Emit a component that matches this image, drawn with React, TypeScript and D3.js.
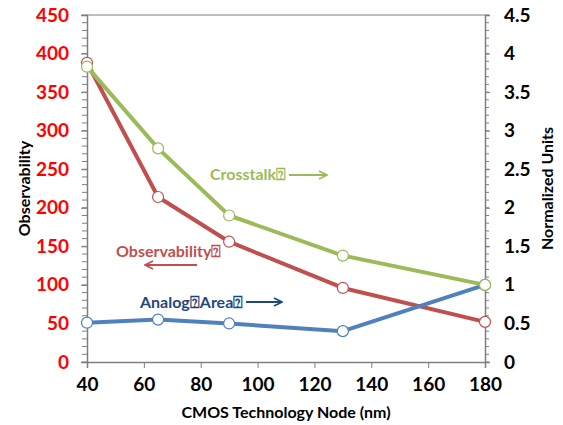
import React, { useEffect, useRef } from 'react';
import * as d3 from 'd3';

// technology nodes (nm)
const nodes = [40, 65, 90, 130, 180];
// observability, left axis
const observability = [388, 214, 156, 96, 52];
// normalized units, right axis
const crosstalk = [3.83, 2.77, 1.9, 1.38, 1.0];
const analogArea = [0.51, 0.55, 0.5, 0.4, 1.0];

const xTicks = [40, 60, 80, 100, 120, 140, 160, 180];
const leftTicks = [0, 50, 100, 150, 200, 250, 300, 350, 400, 450];
const rightTicks = [0, 0.5, 1, 1.5, 2, 2.5, 3, 3.5, 4, 4.5];

const FONT = 'Lato, "Open Sans", sans-serif';

const App: React.FC = () => {
  const svgRef = useRef<SVGSVGElement | null>(null);

  useEffect(() => {
    if (!svgRef.current) return;
    const svg = d3.select(svgRef.current);
    svg.selectAll('*').remove();

    const left = 87, right = 485, top = 15, bottom = 362;

    const x = d3.scaleLinear().domain([40, 180]).range([left, right]);
    const yL = d3.scaleLinear().domain([0, 450]).range([bottom, top]);
    const yR = d3.scaleLinear().domain([0, 4.5]).range([bottom, top]);

    const axisColor = '#7f7f7f';

    // plot frame top line
    svg.append('line')
      .attr('x1', left).attr('x2', right)
      .attr('y1', top).attr('y2', top)
      .attr('stroke', axisColor).attr('stroke-width', 1);

    // minor ticks on left and right axes
    const minorL = d3.range(0, 451, 10);
    svg.append('g').selectAll('line').data(minorL).enter().append('line')
      .attr('x1', left - 5).attr('x2', left)
      .attr('y1', (d) => yL(d)).attr('y2', (d) => yL(d))
      .attr('stroke', axisColor);
    const minorR = d3.range(0, 46).map((i) => i / 10);
    svg.append('g').selectAll('line').data(minorR).enter().append('line')
      .attr('x1', right).attr('x2', right + 4)
      .attr('y1', (d) => yR(d)).attr('y2', (d) => yR(d))
      .attr('stroke', axisColor);

    // x axis
    const gx = svg.append('g')
      .attr('transform', `translate(0,${bottom})`)
      .call(d3.axisBottom(x).tickValues(xTicks).tickSize(6).tickPadding(10).tickFormat(d3.format('d')));
    gx.select('.domain').attr('stroke', axisColor).attr('stroke-width', 1.5);
    gx.selectAll('line').attr('stroke', axisColor);
    gx.selectAll('text')
      .attr('fill', '#000').style('font-family', FONT)
      .style('font-size', '19px').style('font-weight', 'bold');

    // left axis
    const gl = svg.append('g')
      .attr('transform', `translate(${left},0)`)
      .call(d3.axisLeft(yL).tickValues(leftTicks).tickSize(6).tickPadding(12));
    gl.select('.domain').attr('stroke', axisColor).attr('stroke-width', 1.5);
    gl.selectAll('line').attr('stroke', axisColor);
    gl.selectAll('text')
      .attr('fill', '#ff0000').style('font-family', FONT)
      .style('font-size', '19px').style('font-weight', 'bold');

    // right axis
    const gr = svg.append('g')
      .attr('transform', `translate(${right},0)`)
      .call(d3.axisRight(yR).tickValues(rightTicks).tickSize(5).tickPadding(14).tickFormat((d: any) => String(d)));
    gr.select('.domain').attr('stroke', axisColor).attr('stroke-width', 1.5);
    gr.selectAll('line').attr('stroke', axisColor);
    gr.selectAll('text')
      .attr('fill', '#000').style('font-family', FONT)
      .style('font-size', '19px').style('font-weight', 'bold');

    // axis titles
    svg.append('text')
      .attr('transform', `translate(30,${(top + bottom) / 2}) rotate(-90)`)
      .attr('text-anchor', 'middle')
      .style('font-family', FONT).style('font-size', '16px').style('font-weight', 'bold')
      .text('Observability');
    svg.append('text')
      .attr('transform', `translate(553,${(top + bottom) / 2}) rotate(-90)`)
      .attr('text-anchor', 'middle')
      .style('font-family', FONT).style('font-size', '16px').style('font-weight', 'bold')
      .text('Normalized Units');
    svg.append('text')
      .attr('x', (left + right) / 2).attr('y', 418)
      .attr('text-anchor', 'middle')
      .style('font-family', FONT).style('font-size', '16px').style('font-weight', 'bold')
      .text('CMOS Technology Node (nm)');

    // series
    const series = [
      { values: observability, scale: yL, color: '#c0504d' },
      { values: analogArea, scale: yR, color: '#4f81bd' },
      { values: crosstalk, scale: yR, color: '#9bbb59' },
    ];
    series.forEach((s) => {
      const pts = nodes.map((n, i) => [x(n), s.scale(s.values[i])] as [number, number]);
      svg.append('path')
        .attr('d', d3.line()(pts) || '')
        .attr('fill', 'none')
        .attr('stroke', s.color)
        .attr('stroke-width', 4)
        .attr('stroke-linejoin', 'round');
      svg.append('g').selectAll('circle').data(pts).enter().append('circle')
        .attr('cx', (d) => d[0]).attr('cy', (d) => d[1])
        .attr('r', 5.5)
        .attr('fill', '#fff')
        .attr('stroke', s.color)
        .attr('stroke-width', 1.2);
    });

    // arrow markers
    const defs = svg.append('defs');
    const addArrow = (id: string, color: string) => {
      defs.append('marker')
        .attr('id', id)
        .attr('viewBox', '0 0 10 10')
        .attr('refX', 9).attr('refY', 5)
        .attr('markerWidth', 5).attr('markerHeight', 5)
        .attr('orient', 'auto-start-reverse')
        .append('path')
        .attr('d', 'M1,1 L9,5 L1,9')
        .attr('fill', 'none')
        .attr('stroke', color)
        .attr('stroke-width', 1.6);
    };
    addArrow('arrGreen', '#9bbb59');
    addArrow('arrRed', '#c0504d');
    addArrow('arrBlue', '#1f497d');

    const labels = [
      { text: 'Crosstalk⍰', x: 210, y: 180, color: '#9bbb59', ax1: 289, ax2: 327, ay: 175, id: 'arrGreen' },
      { text: 'Observability⍰', x: 116, y: 257, color: '#c0504d', ax1: 197, ax2: 145, ay: 265, id: 'arrRed' },
      { text: 'Analog⍰Area⍰', x: 140, y: 308, color: '#1f497d', ax1: 246, ax2: 282, ay: 302, id: 'arrBlue' },
    ];
    labels.forEach((l) => {
      svg.append('text')
        .attr('x', l.x).attr('y', l.y)
        .attr('fill', l.color)
        .style('font-family', FONT).style('font-size', '16px').style('font-weight', 'bold')
        .text(l.text);
      svg.append('line')
        .attr('x1', l.ax1).attr('x2', l.ax2)
        .attr('y1', l.ay).attr('y2', l.ay)
        .attr('stroke', l.color).attr('stroke-width', 2)
        .attr('marker-end', `url(#${l.id})`);
    });
  }, []);

  return (
    <svg
      ref={svgRef}
      width={563}
      height={425}
      style={{ position: 'absolute', left: 0, top: 0, background: '#fff' }}
    />
  );
};

export default App;
